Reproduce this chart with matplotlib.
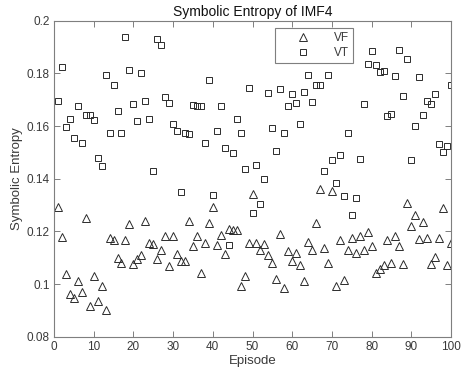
import numpy as np
import matplotlib
matplotlib.use("Agg")
import matplotlib.pyplot as plt
from matplotlib.ticker import FormatStrFormatter

episodes = list(range(1, 101))

vf = [0.1293, 0.1179, 0.1038, 0.0962, 0.0946, 0.1012, 0.0971, 0.1253, 0.0918, 0.1030,
      0.0937, 0.0995, 0.0902, 0.1177, 0.1169, 0.1101, 0.1081, 0.1169, 0.1227, 0.1075,
      0.1097, 0.1110, 0.1240, 0.1156, 0.1152, 0.1097, 0.1129, 0.1182, 0.1068, 0.1182,
      0.1116, 0.1088, 0.1088, 0.1240, 0.1144, 0.1182, 0.1044, 0.1156, 0.1234, 0.1293,
      0.1148, 0.1188, 0.1114, 0.1211, 0.1207, 0.1205, 0.0992, 0.1031, 0.1156, 0.1344,
      0.1156, 0.1131, 0.1154, 0.1110, 0.1082, 0.1019, 0.1189, 0.0984, 0.1125, 0.1087,
      0.1119, 0.1072, 0.1012, 0.1159, 0.1129, 0.1234, 0.1360, 0.1138, 0.1081, 0.1353,
      0.0992, 0.1169, 0.1015, 0.1131, 0.1175, 0.1119, 0.1183, 0.1131, 0.1198, 0.1145,
      0.1044, 0.1057, 0.1072, 0.1167, 0.1081, 0.1183, 0.1145, 0.1075, 0.1308, 0.1220,
      0.1261, 0.1173, 0.1236, 0.1175, 0.1078, 0.1103, 0.1177, 0.1289, 0.1072, 0.1158]

vt = [0.1693, 0.1823, 0.1596, 0.1628, 0.1554, 0.1674, 0.1537, 0.1643, 0.1640, 0.1624,
      0.1480, 0.1447, 0.1794, 0.1575, 0.1756, 0.1658, 0.1572, 0.1937, 0.1813, 0.1683,
      0.1620, 0.1802, 0.1693, 0.1626, 0.1428, 0.1931, 0.1907, 0.1711, 0.1687, 0.1606,
      0.1582, 0.1350, 0.1575, 0.1568, 0.1680, 0.1674, 0.1674, 0.1537, 0.1775, 0.1337,
      0.1580, 0.1674, 0.1515, 0.1150, 0.1496, 0.1628, 0.1575, 0.1436, 0.1744, 0.1270,
      0.1453, 0.1306, 0.1400, 0.1725, 0.1592, 0.1505, 0.1739, 0.1575, 0.1674, 0.1722,
      0.1687, 0.1606, 0.1729, 0.1794, 0.1691, 0.1756, 0.1756, 0.1429, 0.1794, 0.1473,
      0.1384, 0.1491, 0.1333, 0.1575, 0.1261, 0.1327, 0.1476, 0.1682, 0.1836, 0.1883,
      0.1830, 0.1804, 0.1808, 0.1638, 0.1644, 0.1788, 0.1889, 0.1712, 0.1855, 0.1470,
      0.1600, 0.1785, 0.1643, 0.1694, 0.1682, 0.1722, 0.1533, 0.1501, 0.1523, 0.1756]

plt.rcParams['font.family'] = ['Liberation Sans', 'DejaVu Sans']
text_color = '#3a3a3a'
axis_color = '#7f7f7f'

fig = plt.figure(figsize=(4.62, 3.80), dpi=100)
ax = fig.add_axes([0.1169, 0.1132, 0.8593, 0.8328])

# VF as open triangles, VT as open squares
ax.plot(episodes, vf, linestyle='none', marker='^', markersize=5.8,
        markerfacecolor='none', markeredgecolor='#2b2b2b', markeredgewidth=0.7, label='VF')
ax.plot(episodes, vt, linestyle='none', marker='s', markersize=4.2,
        markerfacecolor='none', markeredgecolor='#2b2b2b', markeredgewidth=0.7, label='VT')

ax.set_xlim(0, 100)
ax.set_ylim(0.08, 0.2)
ax.set_xticks(np.arange(0, 101, 10))
ax.set_yticks([0.08, 0.10, 0.12, 0.14, 0.16, 0.18, 0.20])
ax.yaxis.set_major_formatter(FormatStrFormatter('%g'))

ax.tick_params(direction='in', length=4, width=0.7, top=True, right=True,
               colors=axis_color, labelcolor=text_color, labelsize=8.5, pad=3)
for s in ax.spines.values():
    s.set_color(axis_color)
    s.set_linewidth(0.8)

ax.set_xlabel('Episode', fontsize=9.5, color=text_color, labelpad=1)
ax.set_ylabel('Symbolic Entropy', fontsize=9.5, color=text_color, labelpad=3)
ax.set_title('Symbolic Entropy of IMF4', fontsize=10, color='#111111', pad=3)

leg = ax.legend(loc='upper left', bbox_to_anchor=(0.557, 0.976), fancybox=False,
                edgecolor=axis_color, fontsize=8.5, handlelength=4.2, handletextpad=0.5,
                borderpad=0.3, labelspacing=0.3, borderaxespad=0, framealpha=1)
leg.get_frame().set_linewidth(0.8)
for t in leg.get_texts():
    t.set_color(text_color)

fig.savefig('out.png', dpi=100)
